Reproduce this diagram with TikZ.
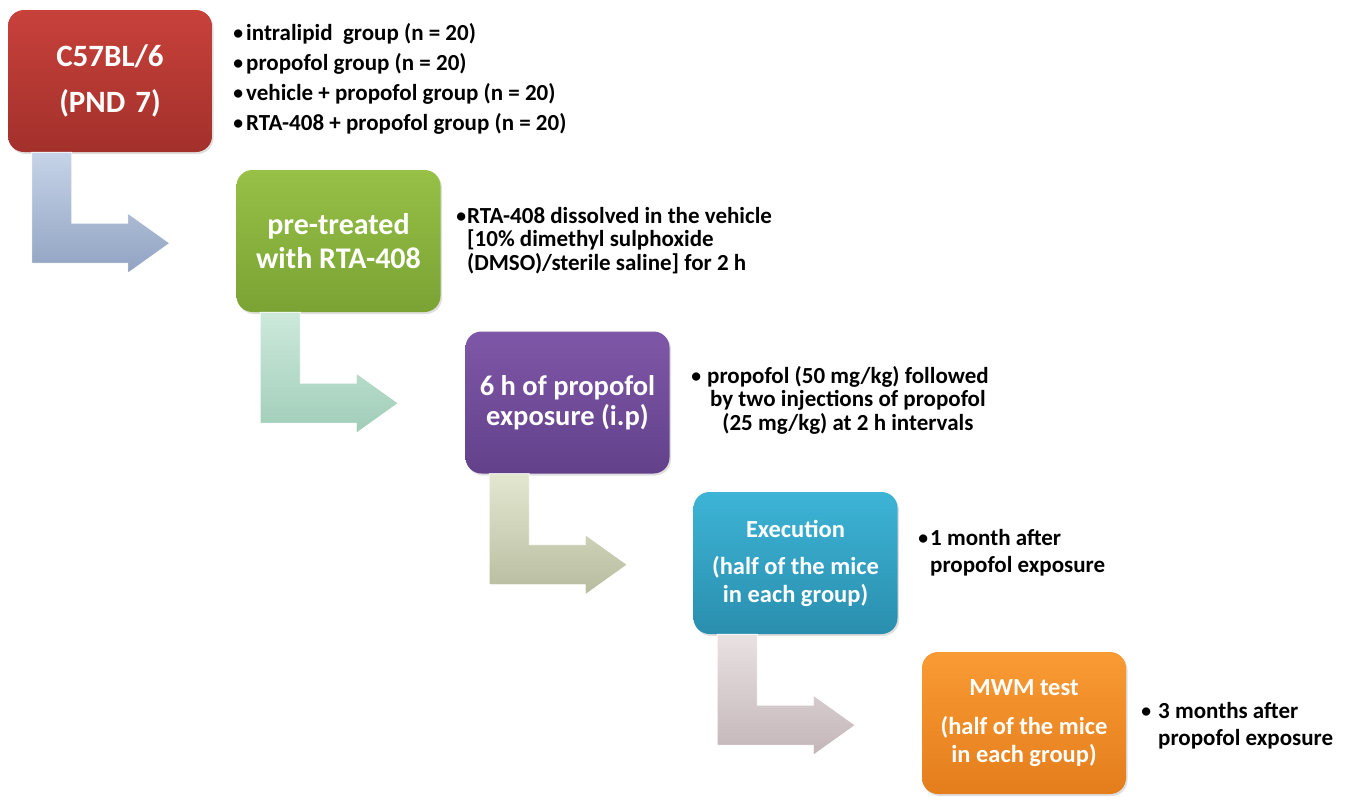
\documentclass[tikz,border=0pt]{standalone}
\usepackage{fontspec}
\usepackage{graphicx}
\setmainfont{Carlito}
\usetikzlibrary{calc,shadows}
\definecolor{redT}{HTML}{C8413B}\definecolor{redB}{HTML}{A3302B}
\definecolor{greenT}{HTML}{96C046}\definecolor{greenB}{HTML}{7AA334}
\definecolor{purpleT}{HTML}{7F57A8}\definecolor{purpleB}{HTML}{62418A}
\definecolor{cyanT}{HTML}{3DB4D6}\definecolor{cyanB}{HTML}{2A8EAE}
\definecolor{orangeT}{HTML}{F99B34}\definecolor{orangeB}{HTML}{E47D1C}
\definecolor{aT}{HTML}{C6D3E8}\definecolor{aB}{HTML}{91A3C2}
\definecolor{bT}{HTML}{CDE9DC}\definecolor{bB}{HTML}{A0CDB8}
\definecolor{cT}{HTML}{E3E7D0}\definecolor{cB}{HTML}{B7BC9F}
\definecolor{dT}{HTML}{E9E1E2}\definecolor{dB}{HTML}{C3B6B8}
\newcommand\lefttext[1]{\vtop{\halign{##\hfil\cr#1\crcr}}}
\newcommand\centertext[1]{\vtop{\halign{\hfil##\hfil\cr#1\crcr}}}
\newcommand\bul{\makebox[10pt][c]{\raisebox{0.8pt}{\scalebox{0.85}{•}}}}
\tikzset{
  box/.style={rounded corners=16pt, minimum width=204pt, minimum height=142pt,
    inner sep=0pt, align=center, text=white,
    drop shadow={shadow xshift=1.5pt, shadow yshift=-2pt, opacity=0.25}},
  bentarrow/.style={draw=white, line width=0.8pt, line join=miter},
  bullets/.style={anchor=base west, inner sep=0pt, text=black}
}
\begin{document}
\begin{tikzpicture}[x=1pt,y=-1pt]
\useasboundingbox[fill=white] (0,0) rectangle (1349,796);
% boxes
\node[box, top color=redT, bottom color=redB, font=\bfseries\fontsize{31}{46}\selectfont] (b1) at (110,81) {C57BL/6\\(PND\hskip 10pt 7)};
\node[box, top color=greenT, bottom color=greenB, font=\bfseries\fontsize{30}{34}\selectfont] (b2) at (338.5,241) {pre-treated\\with RTA-408};
\node[box, top color=purpleT, bottom color=purpleB, font=\bfseries\fontsize{28.5}{30}\selectfont] (b3) at (567.5,402.5) {6 h of propofol\\exposure (i.p)};
\node[box, top color=cyanT, bottom color=cyanB, font=\bfseries\fontsize{24.5}{28}\selectfont] (b4) at (795.5,563) {Execution\\[9pt](half of the mice\\in each group)};
\node[box, top color=orangeT, bottom color=orangeB, font=\bfseries\fontsize{24.5}{28}\selectfont] (b5) at (1024,723) {MWM test\\[11pt](half of the mice\\in each group)};
% bent arrows
\foreach \n/\c in {b1/a, b2/b, b3/c, b4/d}{
  \path[bentarrow, top color=\c T, bottom color=\c B]
    ($(\n.south west)+(24,0)$) -- ++(40,0) -- ++(0,71) -- ++(56,0) -- ++(0,-10)
    -- ++(42,30) -- ++(-42,30) -- ++(0,-10) -- ++(-96,0) -- cycle;
}
% bullet texts
\node[bullets, font=\bfseries\fontsize{23}{30}\selectfont] (t1) at (233,40)
  {\lefttext{\bul\hskip 3pt intralipid\ \ group (n = 20)\cr
             \bul\hskip 3pt propofol group (n = 20)\cr
             \bul\hskip 3pt vehicle + propofol group (n = 20)\cr
             \bul\hskip 3pt RTA-408 + propofol group (n = 20)}};
\node[bullets, font=\bfseries\fontsize{23}{23.5}\selectfont] (t2) at (456,223)
  {\bul\hskip 1pt\lefttext{RTA-408 dissolved in the vehicle\cr
             [10\% dimethyl sulphoxide\cr
             (DMSO)/sterile saline] for 2 h}};
\node[bullets, font=\bfseries\fontsize{23}{23.5}\selectfont] (t3) at (691,383)
  {\bul\hskip 6pt\centertext{propofol (50 mg/kg) followed\cr
             by two injections of propofol\cr
             (25 mg/kg) at 2 h intervals}};
\node[bullets, font=\bfseries\fontsize{23}{27}\selectfont] (t4) at (918,545)
  {\bul\hskip 2pt\lefttext{1 month after\cr propofol exposure}};
\node[bullets, font=\bfseries\fontsize{23}{27}\selectfont] (t5) at (1141,718)
  {\bul\hskip 7pt\lefttext{3 months after\cr propofol exposure}};
\end{tikzpicture}
\end{document}
